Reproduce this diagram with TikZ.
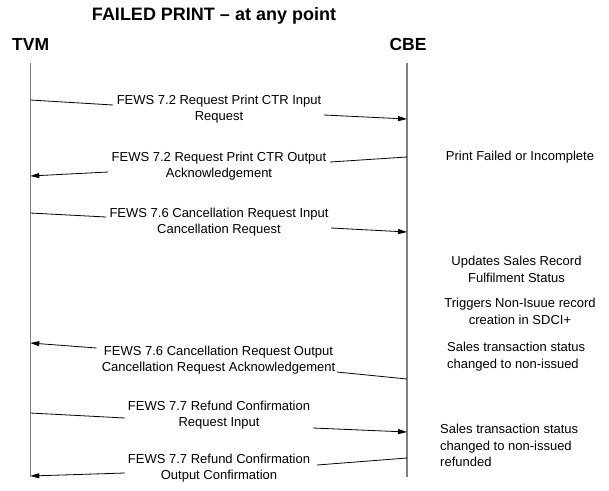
\documentclass[tikz,border=0pt]{standalone}
\usepackage{fontspec}
\setmainfont{Liberation Sans}
\usetikzlibrary{arrows.meta}
\tikzset{
  msg/.style={inner sep=0pt, align=center, font=\fontsize{13}{16}\selectfont},
  note/.style={inner sep=0pt, font=\fontsize{13}{16.5}\selectfont},
  actor/.style={inner sep=0pt, font=\bfseries\fontsize{17.5}{20}\selectfont},
  lifeline/.style={draw=black!50, line width=1.3pt},
  wire/.style={draw=black, line width=0.8pt},
  arr/.style={wire, -{Triangle[length=9pt,width=5pt]}}
}
\begin{document}
\begin{tikzpicture}[x=1pt,y=-1pt]
\useasboundingbox (0,0) rectangle (609,490);
% title and actors
\node[actor, font=\bfseries\fontsize{18}{22}\selectfont] (title) at (214,16) {FAILED PRINT -- at any point};
\node[actor] (tvm) at (30.7,44) {TVM};
\node[actor] (cbe) at (408,44) {CBE};
% lifelines
\coordinate (tvmtop) at (30.3,63);
\coordinate (tvmbot) at (30.3,477);
\coordinate (cbetop) at (407,63);
\coordinate (cbebot) at (407,477);
\draw[lifeline] (tvmtop) -- (tvmbot);
\draw[lifeline] (cbetop) -- (cbebot);
% message 1
\node[msg] (m1) at (219,109) {FEWS 7.2 Request Print CTR Input\\Request};
\coordinate (m1a) at (30.3,100);
\coordinate (m1b) at (113,105);
\coordinate (m1c) at (324,115);
\coordinate (m1d) at (407,119);
\draw[wire] (m1a) -- (m1b);
\draw[arr] (m1c) -- (m1d);
% message 2
\node[msg] (m2) at (219,166) {FEWS 7.2 Request Print CTR Output\\Acknowledgement};
\coordinate (m2a) at (407,157);
\coordinate (m2b) at (330,162);
\coordinate (m2c) at (108,172);
\coordinate (m2d) at (30.3,176);
\draw[wire] (m2a) -- (m2b);
\draw[arr] (m2c) -- (m2d);
% message 3
\node[msg] (m3) at (219,222.5) {FEWS 7.6 Cancellation Request Input\\Cancellation Request};
\coordinate (m3a) at (30.3,213);
\coordinate (m3b) at (106,217);
\coordinate (m3c) at (331,228);
\coordinate (m3d) at (407,232);
\draw[wire] (m3a) -- (m3b);
\draw[arr] (m3c) -- (m3d);
% message 4
\node[msg] (m4) at (218.5,360.5) {FEWS 7.6 Cancellation Request Output\\Cancellation Request Acknowledgement};
\coordinate (m4a) at (407,379);
\coordinate (m4b) at (337,372);
\coordinate (m4c) at (96.5,348);
\coordinate (m4d) at (30.3,343);
\draw[wire] (m4a) -- (m4b);
\draw[arr] (m4c) -- (m4d);
% message 5
\node[msg] (m5) at (219,415) {FEWS 7.7 Refund Confirmation\\Request Input};
\coordinate (m5a) at (30.3,413);
\coordinate (m5b) at (125,418);
\coordinate (m5c) at (313,428);
\coordinate (m5d) at (407,432);
\draw[wire] (m5a) -- (m5b);
\draw[arr] (m5c) -- (m5d);
% message 6
\node[msg] (m6) at (219,468) {FEWS 7.7 Refund Confirmation\\Output Confirmation};
\coordinate (m6a) at (407,458);
\coordinate (m6b) at (317,465);
\coordinate (m6c) at (125,473);
\coordinate (m6d) at (30.3,476);
\draw[wire] (m6a) -- (m6b);
\draw[arr] (m6c) -- (m6d);
% notes
\node[note] (n1) at (520,157) {Print Failed or Incomplete};
\node[note, align=center] (n2) at (516.5,269.5) {Updates Sales Record\\Fulfilment Status};
\node[note, align=center] (n3) at (520,311.5) {Triggers Non-Isuue record\\creation in SDCI+};
\node[note, align=left, anchor=west] (n4) at (447,356.5) {Sales transaction status\\changed to non-issued};
\node[note, align=left, anchor=west] (n5) at (440,445.5) {Sales transaction status\\changed to non-issued\\refunded};
\end{tikzpicture}
\end{document}
